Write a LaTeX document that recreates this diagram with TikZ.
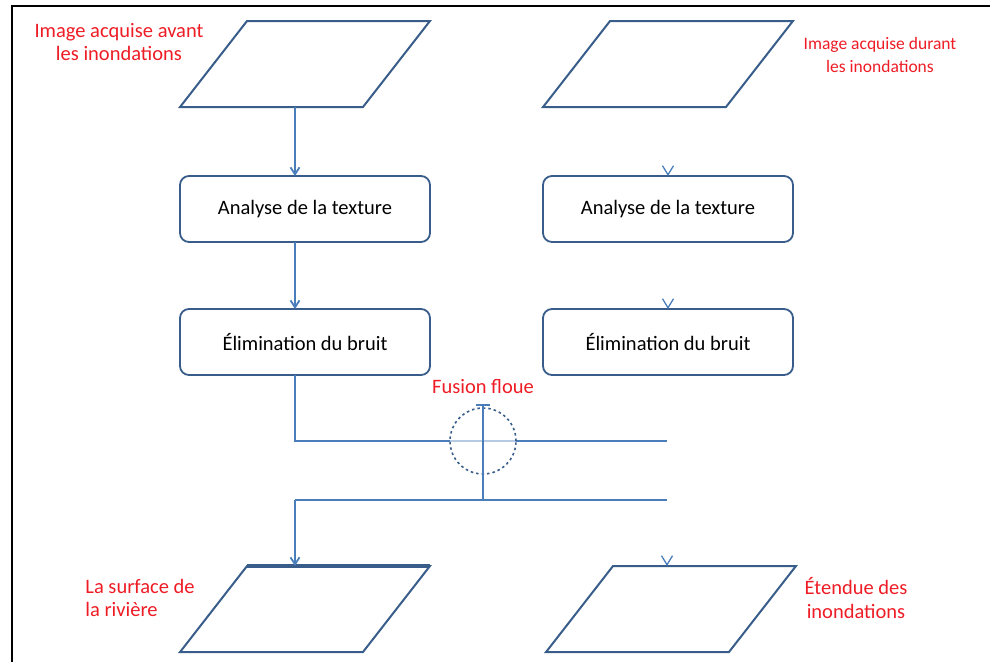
\documentclass[tikz,border=0pt]{standalone}
\usepackage{fontspec}
\setmainfont{Carlito}
\usetikzlibrary{shapes.geometric,arrows.meta}
\definecolor{shapeblue}{HTML}{385D8A}
\definecolor{linkblue}{HTML}{4A7EBB}
\definecolor{labelred}{HTML}{EE1C25}

\begin{document}
\begin{tikzpicture}[x=1pt,y=-1pt,
  data/.style={draw=shapeblue,line width=2pt,trapezium,trapezium left angle=60,
    trapezium right angle=120,trapezium stretches=true,
    minimum width=250pt,minimum height=86pt,inner sep=3pt,outer sep=0pt},
  proc/.style={draw=shapeblue,line width=1.8pt,rounded corners=9pt,
    minimum width=250pt,minimum height=66pt,outer sep=0pt,
    font=\fontsize{20.5}{24}\selectfont},
  lbl/.style={text=labelred,font=\fontsize{20.5}{23.5}\selectfont,align=center},
  link/.style={draw=linkblue,line width=1.8pt},
  tip/.style={-{Straight Barb[length=7pt,width=9pt]}},
  ghost/.style={draw=white,line width=1.6pt,shorten <=3pt,
    -{Straight Barb[length=9pt,width=11pt,color=linkblue,line width=1.3pt]}}]
  \useasboundingbox (0,0) rectangle (990,662);
  \draw[black,line width=1.5pt] (990,6) -- (12,6) -- (12,662);

  % inputs
  \node[data] (inL) at (305,64) {};
  \node[data] (inR) at (668,64) {};
  \node[lbl] (lblInL) at (119,42) {Image acquise avant\\les inondations};
  \node[lbl,font=\fontsize{17.5}{23}\selectfont] (lblInR) at (880,55)
    {Image acquise durant\\les inondations};

  % processing
  \node[proc] (texL) at (305,209) {Analyse de la texture};
  \node[proc] (texR) at (668,209) {Analyse de la texture};
  \node[proc] (bruitL) at (305,342) {Élimination du bruit};
  \node[proc] (bruitR) at (668,342) {Élimination du bruit};

  % outputs
  \node[data] (outL) at (305,609) {};
  \node[data] (outR) at (671,609) {};
  \draw[shapeblue,line width=3.5pt] (outL.top left corner) -- (outL.top right corner);
  \node[lbl,align=left] (lblOutL) at (140,598) {La surface de\\la rivière};
  \node[lbl] (lblOutR) at (856,598) {Étendue des\\inondations};

  \coordinate (colL) at (295,0);
  \coordinate (j1) at (295,441);
  \coordinate (e1) at (667,441);
  \coordinate (j2) at (295,500);
  \coordinate (e2) at (667,500);
  \coordinate (ft) at (483,404);
  \coordinate (fb) at (483,500);

  \draw[link,tip] (inL.south -| colL) -- (texL.north -| colL);
  \draw[link,tip] (texL.south -| colL) -- (bruitL.north -| colL);
  \draw[ghost] (inR.south) -- (texR.north);
  \draw[ghost] (texR.south) -- (bruitR.north);

  % fusion
  \draw[link] (bruitL.south -| colL) -- (j1) -- (e1);
  \node[circle,draw=shapeblue,dash pattern=on 2.5pt off 3pt,line width=1.6pt,
    fill=white,fill opacity=0.6,draw opacity=1,minimum size=66pt] (fus) at (483,441) {};
  \node[lbl] (lblFus) at (483,387) {Fusion floue};
  \draw[link,{Bar[width=14pt]}-] (ft) -- (fb);
  \draw[link] (e2) -- (j2);
  \draw[link,tip] (j2) -- (outL.north -| colL);
  \draw[ghost,shorten <=4pt] (e2) -- (outR.north -| e2);
\end{tikzpicture}
\end{document}
